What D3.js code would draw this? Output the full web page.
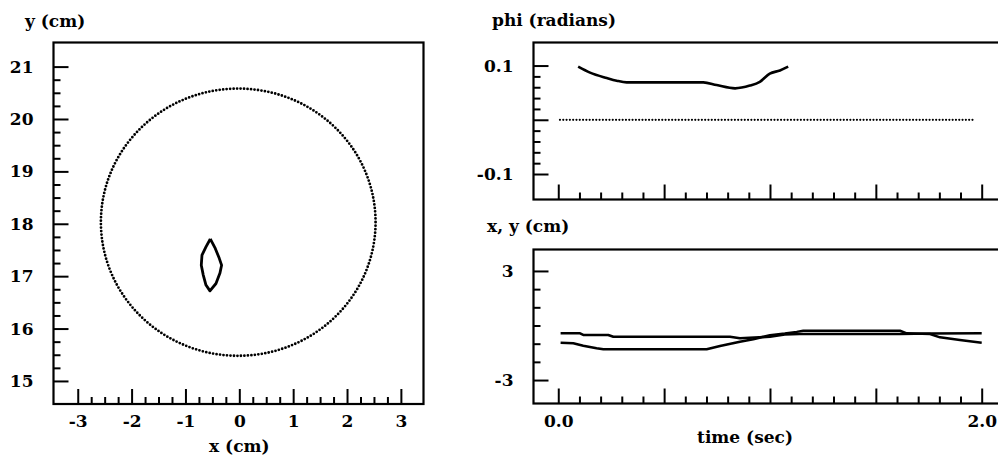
<!DOCTYPE html>
<html>
<head>
<meta charset="utf-8">
<script src="https://cdn.jsdelivr.net/npm/d3@7"></script>
<style>
  body { margin: 0; background: #fff; }
  text { font-family: "DejaVu Serif", serif; font-weight: bold; font-size: 17px; fill: #000; }
  .tick line { stroke: #000; stroke-width: 2; }
</style>
</head>
<body>
<div class="container"></div>
<script>
// Data
// left panel: hand path (x,y in cm) and the target circle
var lensX = [-0.539, -0.446, -0.372, -0.329, -0.359, -0.433, -0.545, -0.619, -0.669, -0.706, -0.693, -0.619, -0.539];
var lensY = [17.71, 17.53, 17.34, 17.21, 17.06, 16.86, 16.72, 16.83, 17.02, 17.21, 17.40, 17.56, 17.71];
var targetX = -0.02, targetY = 18.03, targetR = 2.55;

// top right: phi vs time
var phiTime = [0.094, 0.150, 0.229, 0.276, 0.323, 0.685, 0.748, 0.835, 0.905, 0.952, 0.999, 1.047, 1.086];
var phiVal = [0.098, 0.087, 0.077, 0.072, 0.069, 0.069, 0.064, 0.058, 0.063, 0.070, 0.085, 0.091, 0.098];
var phiRefTime = [0.008, 1.96];
var phiRefVal = [0, 0];

// bottom right: x and y vs time
var yTime = [0.011, 0.103, 0.118, 0.236, 0.26, 0.811, 0.858, 1.0, 1.07, 1.14, 1.614, 1.755, 2.0];
var yVal = [-0.43, -0.43, -0.52, -0.52, -0.62, -0.62, -0.70, -0.62, -0.49, -0.47, -0.47, -0.44, -0.43];
var xTime = [0.011, 0.071, 0.118, 0.181, 0.213, 0.701, 0.764, 0.858, 0.921, 1.0, 1.07, 1.126, 1.157, 1.614, 1.646, 1.756, 1.803, 1.897, 2.0];
var xVal = [-0.95, -0.98, -1.11, -1.25, -1.31, -1.31, -1.13, -0.89, -0.76, -0.53, -0.44, -0.35, -0.29, -0.29, -0.43, -0.47, -0.65, -0.80, -0.95];

// ticks
var posMajor = [-3, -2, -1, 0, 1, 2, 3];
var posMinor = [-2.75, -2.5, -2.25, -1.75, -1.5, -1.25, -0.75, -0.5, -0.25, 0.25, 0.5, 0.75, 1.25, 1.5, 1.75, 2.25, 2.5, 2.75];
var heightMajor = [15, 16, 17, 18, 19, 20, 21];
var heightMinor = [15.25, 15.5, 15.75, 16.25, 16.5, 16.75, 17.25, 17.5, 17.75, 18.25, 18.5, 18.75, 19.25, 19.5, 19.75, 20.25, 20.5, 20.75];
var timeMajor = [0, 0.5, 1.0, 1.5, 2.0];
var timeMinor = [0.1, 0.2, 0.3, 0.4, 0.6, 0.7, 0.8, 0.9, 1.1, 1.2, 1.3, 1.4, 1.6, 1.7, 1.8, 1.9];
var timeLabels = {"0": "0.0", "2": "2.0"};
var phiMajor = [-0.1, 0, 0.1];
var phiMinor = [-0.08, -0.06, -0.04, -0.02, 0.02, 0.04, 0.06, 0.08];
var phiLabels = {"-0.1": "-0.1", "0.1": "0.1"};
var cmMajor = [-3, 3];
var cmMinor = [-2, -1, 0, 1, 2];

var width = 998, height = 463;
var bigTick = 15, smallTick = 7;

var svg = d3.select(".container").append("svg")
    .attr("width", width)
    .attr("height", height);

// scales
var x = d3.scaleLinear().domain([-3.45, 3.42]).range([53.5, 423.5]);
var y = d3.scaleLinear().domain([14.56, 21.46]).range([404, 42.5]);
var t = d3.scaleLinear().domain([-0.117, 2.077]).range([533.5, 998]);
var phiY = d3.scaleLinear().domain([-0.147, 0.1425]).range([199.5, 42.5]);
var cmY = d3.scaleLinear().domain([-4.29, 4.18]).range([403.5, 249.5]);

var plain = function(d) { return String(d); }; // hyphen minus like the original

// helper: inward ticks, major + minor
function leftTicks(g, scale, major, minor, fmt) {
  g.append("g").call(d3.axisLeft(scale).tickValues(major).tickSize(-bigTick).tickPadding(20).tickFormat(fmt))
    .call(function(a) { a.select(".domain").remove(); a.selectAll("text").attr("font-size", null).attr("font-family", null); });
  g.append("g").call(d3.axisLeft(scale).tickValues(minor).tickSize(-smallTick).tickFormat(""))
    .call(function(a) { a.select(".domain").remove(); });
}
function bottomTicks(g, scale, major, minor, fmt) {
  g.append("g").call(d3.axisBottom(scale).tickValues(major).tickSize(-bigTick).tickPadding(11).tickFormat(fmt))
    .call(function(a) { a.select(".domain").remove(); a.selectAll("text").attr("font-size", null).attr("font-family", null); });
  g.append("g").call(d3.axisBottom(scale).tickValues(minor).tickSize(-smallTick).tickFormat(""))
    .call(function(a) { a.select(".domain").remove(); });
}
function frame(x0, y0, x1, y1) {
  svg.append("rect").attr("x", x0).attr("y", y0).attr("width", x1 - x0).attr("height", y1 - y0)
    .attr("fill", "none").attr("stroke", "#000").attr("stroke-width", 2.2);
}

// ---- left panel
frame(x.range()[0], y.range()[1], x.range()[1], y.range()[0]);
leftTicks(svg.append("g").attr("transform", "translate(" + x.range()[0] + ",0)"), y, heightMajor, heightMinor, plain);
bottomTicks(svg.append("g").attr("transform", "translate(0," + y.range()[0] + ")"), x, posMajor, posMinor, plain);

svg.append("ellipse")
    .attr("cx", x(targetX)).attr("cy", y(targetY))
    .attr("rx", x(targetX + targetR) - x(targetX))
    .attr("ry", y(targetY) - y(targetY + targetR))
    .attr("fill", "none").attr("stroke", "#000")
    .attr("stroke-width", 2.8).attr("stroke-linecap", "round")
    .attr("stroke-dasharray", "0 3.5");

svg.append("path")
    .datum(d3.range(lensX.length))
    .attr("d", d3.line().x(function(i) { return x(lensX[i]); }).y(function(i) { return y(lensY[i]); }))
    .attr("fill", "none").attr("stroke", "#000").attr("stroke-width", 2.8).attr("stroke-linejoin", "round");

svg.append("text").attr("x", 25).attr("y", 27).text("y (cm)");
svg.append("text").attr("x", x(0)).attr("y", 452).attr("text-anchor", "middle").text("x (cm)");

// ---- top right panel
frame(t.range()[0], phiY.range()[1], 1010, phiY.range()[0]);
leftTicks(svg.append("g").attr("transform", "translate(" + t.range()[0] + ",0)"), phiY, phiMajor, phiMinor,
  function(d) { return phiLabels[String(d)] || ""; });
bottomTicks(svg.append("g").attr("transform", "translate(0," + phiY.range()[0] + ")"), t, timeMajor, timeMinor, function() { return ""; });

svg.append("path")
    .datum(d3.range(phiRefTime.length))
    .attr("d", d3.line().x(function(i) { return t(phiRefTime[i]); }).y(function(i) { return phiY(phiRefVal[i]); }))
    .attr("fill", "none").attr("stroke", "#000").attr("stroke-width", 2.2)
    .attr("stroke-linecap", "round").attr("stroke-dasharray", "0 3.3");

svg.append("path")
    .datum(d3.range(phiTime.length))
    .attr("d", d3.line().curve(d3.curveMonotoneX).x(function(i) { return t(phiTime[i]); }).y(function(i) { return phiY(phiVal[i]); }))
    .attr("fill", "none").attr("stroke", "#000").attr("stroke-width", 2.6);

svg.append("text").attr("x", 492).attr("y", 26).text("phi (radians)");

// ---- bottom right panel
frame(t.range()[0], cmY.range()[1], 1010, cmY.range()[0]);
leftTicks(svg.append("g").attr("transform", "translate(" + t.range()[0] + ",0)"), cmY, cmMajor, cmMinor, plain);
bottomTicks(svg.append("g").attr("transform", "translate(0," + cmY.range()[0] + ")"), t, timeMajor, timeMinor,
  function(d) { return timeLabels[String(d)] || ""; });

[[xTime, xVal], [yTime, yVal]].forEach(function(s) {
  svg.append("path")
    .datum(d3.range(s[0].length))
    .attr("d", d3.line().x(function(i) { return t(s[0][i]); }).y(function(i) { return cmY(s[1][i]); }))
    .attr("fill", "none").attr("stroke", "#000").attr("stroke-width", 2.5).attr("stroke-linejoin", "round");
});

svg.append("text").attr("x", 487).attr("y", 232).text("x, y (cm)");
svg.append("text").attr("x", 745).attr("y", 443).attr("text-anchor", "middle").text("time (sec)");
</script>
</body>
</html>
